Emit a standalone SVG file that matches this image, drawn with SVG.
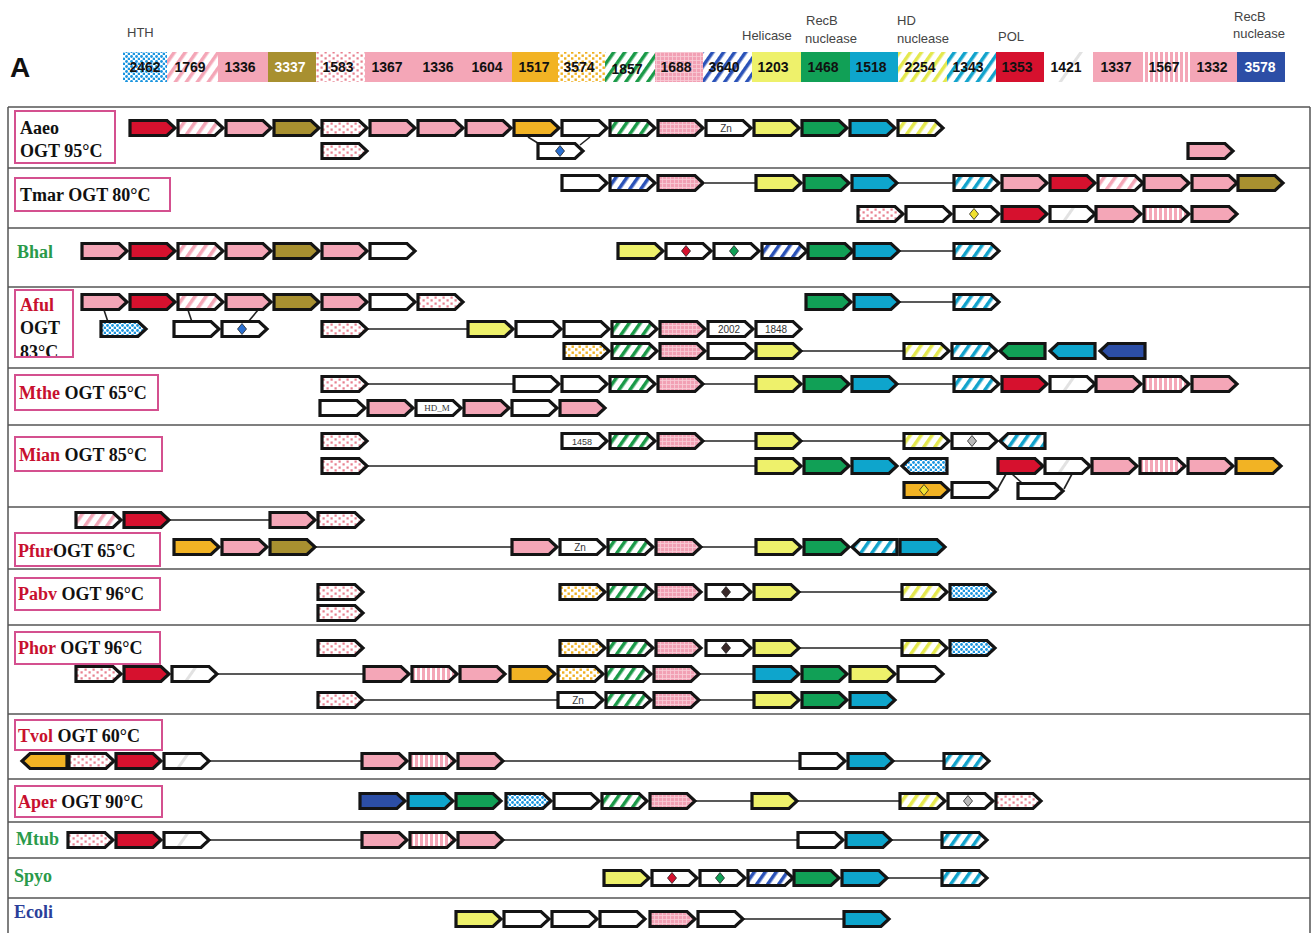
<svg xmlns="http://www.w3.org/2000/svg" xmlns:xlink="http://www.w3.org/1999/xlink" width="1313" height="933" viewBox="0 0 1313 933">
<style>
.pk{fill:#f4a6b7}.rd{fill:#d6112e}.ol{fill:#a89030}.or{fill:#f2b324}.ye{fill:#eef16b}.gr{fill:#11a056}.cy{fill:#0ea5cc}.db{fill:#2c4ea6}.wh{fill:#fff}
.ps{fill:url(#pps)}.pd{fill:url(#ppd)}.od{fill:url(#pod)}.gs{fill:url(#pgs)}.pg{fill:url(#ppg)}.bs{fill:url(#pbs)}.ys{fill:url(#pys)}.cs{fill:url(#pcs)}.wg{fill:url(#pwg)}.pv{fill:url(#ppv)}.cd{fill:url(#pcd)}
.leg{font-family:"Liberation Sans",Arial,sans-serif;font-size:14px;font-weight:bold;fill:#111;text-anchor:middle}
.lab{font-family:"Liberation Sans",Arial,sans-serif;font-size:13px;fill:#444}
.org{font-family:"Liberation Serif","Times New Roman",serif;font-size:18px;font-weight:bold;fill:#111}
.red{fill:#c8102e}.grn{fill:#2a9a4a}.blu{fill:#2b3f9a}
.box{fill:none;stroke:#d4508f;stroke-width:2}
.gt{font-family:"Liberation Sans",Arial,sans-serif;font-size:10px;fill:#333;text-anchor:middle}
.con line{stroke:#222;stroke-width:1.6}
.frame{stroke:#555;stroke-width:1.5;fill:none}
</style>
<defs>
<pattern id="pps" width="9" height="9" patternUnits="userSpaceOnUse" patternTransform="rotate(35)"><rect width="9" height="9" fill="#fff"/><rect width="3.5" height="9" fill="#f4a6b7"/></pattern>
<pattern id="pgs" width="9" height="9" patternUnits="userSpaceOnUse" patternTransform="rotate(35)"><rect width="9" height="9" fill="#fff"/><rect width="3.5" height="9" fill="#1a9a48"/></pattern>
<pattern id="pbs" width="9" height="9" patternUnits="userSpaceOnUse" patternTransform="rotate(35)"><rect width="9" height="9" fill="#fff"/><rect width="3.5" height="9" fill="#2a52b8"/></pattern>
<pattern id="pys" width="9" height="9" patternUnits="userSpaceOnUse" patternTransform="rotate(35)"><rect width="9" height="9" fill="#fff"/><rect width="3.5" height="9" fill="#e4e84e"/></pattern>
<pattern id="pcs" width="9" height="9" patternUnits="userSpaceOnUse" patternTransform="rotate(35)"><rect width="9" height="9" fill="#fff"/><rect width="3.5" height="9" fill="#12a3cc"/></pattern>
<pattern id="pwg" width="36" height="36" patternUnits="userSpaceOnUse" patternTransform="rotate(35)"><rect width="36" height="36" fill="#fff"/><rect x="14" width="3" height="36" fill="#e2e2e2"/></pattern>
<pattern id="ppv" width="5" height="5" patternUnits="userSpaceOnUse"><rect width="5" height="5" fill="#fff"/><rect width="3" height="5" fill="#f4a6b7"/></pattern>
<pattern id="ppd" width="8" height="6" patternUnits="userSpaceOnUse"><rect width="8" height="6" fill="#fff"/><rect x="0.5" y="0.5" width="2.2" height="2.2" fill="#e8808f"/><rect x="4.5" y="3.3" width="2.2" height="2.2" fill="#e8808f"/></pattern>
<pattern id="pod" width="7" height="6" patternUnits="userSpaceOnUse"><rect width="7" height="6" fill="#fff"/><rect x="0.5" y="0.5" width="2.4" height="2.4" fill="#f0b020"/><rect x="4" y="3.3" width="2.4" height="2.4" fill="#f0b020"/></pattern>
<pattern id="pcd" width="5" height="5" patternUnits="userSpaceOnUse"><rect width="5" height="5" fill="#fff"/><circle cx="1.5" cy="1.5" r="1.4" fill="#1a95e0"/><circle cx="4" cy="4" r="1.4" fill="#1a95e0"/></pattern>
<pattern id="ppg" width="4" height="4" patternUnits="userSpaceOnUse"><rect width="4" height="4" fill="#f2a0b4"/><path d="M0,0.5H4M0.5,0V4" stroke="#f9cdd7" stroke-width="0.8"/></pattern>
<path id="f" d="M0,-7.5H37L45,0L37,7.5H0Z" stroke="#141414" stroke-width="3.2"/>
<path id="r" d="M45,-7.5H8L0,0L8,7.5H45Z" stroke="#141414" stroke-width="3.2"/>
<path id="dm" d="M0,-5.5L4.5,0L0,5.5L-4.5,0Z" stroke="#222" stroke-width="0.8"/>
<clipPath id="afc"><rect x="15" y="290" width="58" height="66"/></clipPath>
</defs>
<rect width="1313" height="933" fill="#fff"/>

<g id="legend">
<text x="10" y="77" style="font-family:'Liberation Sans',Arial,sans-serif;font-size:28px;font-weight:bold" fill="#111">A</text>
<text class="lab" x="127" y="37">HTH</text>
<text class="lab" x="742" y="40">Helicase</text>
<text class="lab" x="806" y="25">RecB</text><text class="lab" x="805" y="43">nuclease</text>
<text class="lab" x="897" y="25">HD</text><text class="lab" x="897" y="43">nuclease</text>
<text class="lab" x="998" y="41">POL</text>
<text class="lab" x="1234" y="21">RecB</text><text class="lab" x="1233" y="38">nuclease</text>
<rect x="123" y="52" width="44" height="30" class="cd"/>
<rect x="167" y="52" width="51" height="30" class="ps"/>
<rect x="218" y="52" width="50" height="30" class="pk"/>
<rect x="268" y="52" width="48" height="30" class="ol"/>
<rect x="316" y="52" width="49" height="30" class="pd"/>
<rect x="365" y="52" width="147" height="30" class="pk"/>
<rect x="512" y="52" width="46" height="30" class="or"/>
<rect x="558" y="52" width="47" height="30" class="od"/>
<rect x="605" y="52" width="50" height="30" class="gs"/>
<rect x="655" y="52" width="48" height="30" class="pg"/>
<rect x="703" y="52" width="49" height="30" class="bs"/>
<rect x="752" y="52" width="49" height="30" class="ye"/>
<rect x="801" y="52" width="49" height="30" class="gr"/>
<rect x="850" y="52" width="48" height="30" class="cy"/>
<rect x="898" y="52" width="49" height="30" class="ys"/>
<rect x="947" y="52" width="49" height="30" class="cs"/>
<rect x="996" y="52" width="48" height="30" class="rd"/>
<rect x="1044" y="52" width="49" height="30" class="wg"/>
<rect x="1093" y="52" width="50" height="30" class="pk"/>
<rect x="1143" y="52" width="47" height="30" class="pv"/>
<rect x="1190" y="52" width="47" height="30" class="pk"/>
<rect x="1237" y="52" width="48" height="30" class="db"/>
<text class="leg" x="145" y="72">2462</text>
<text class="leg" x="190" y="72">1769</text>
<text class="leg" x="240" y="72">1336</text>
<text class="leg" x="290" y="72" style="fill:#fff">3337</text>
<text class="leg" x="338" y="72">1583</text>
<text class="leg" x="387" y="72">1367</text>
<text class="leg" x="438" y="72">1336</text>
<text class="leg" x="487" y="72">1604</text>
<text class="leg" x="534" y="72">1517</text>
<text class="leg" x="579" y="72">3574</text>
<text class="leg" x="627" y="74">1857</text>
<text class="leg" x="676" y="72">1688</text>
<text class="leg" x="724" y="72">3640</text>
<text class="leg" x="773" y="72">1203</text>
<text class="leg" x="823" y="72">1468</text>
<text class="leg" x="871" y="72">1518</text>
<text class="leg" x="920" y="72">2254</text>
<text class="leg" x="968" y="72">1343</text>
<text class="leg" x="1017" y="72">1353</text>
<text class="leg" x="1066" y="72">1421</text>
<text class="leg" x="1116" y="72">1337</text>
<text class="leg" x="1164" y="72">1567</text>
<text class="leg" x="1212" y="72">1332</text>
<text class="leg" x="1260" y="72" style="fill:#fff">3578</text>
</g>

<g id="frame" class="frame">
<line x1="8" y1="107" x2="1310" y2="107"/>
<line x1="8" y1="107" x2="8" y2="933"/>
<line x1="1310" y1="107" x2="1310" y2="933"/>
<line x1="8" y1="168" x2="1310" y2="168"/>
<line x1="8" y1="228" x2="1310" y2="228"/>
<line x1="8" y1="287" x2="1310" y2="287"/>
<line x1="8" y1="368" x2="1310" y2="368"/>
<line x1="8" y1="425" x2="1310" y2="425"/>
<line x1="8" y1="507" x2="1310" y2="507"/>
<line x1="8" y1="569" x2="1310" y2="569"/>
<line x1="8" y1="625" x2="1310" y2="625"/>
<line x1="8" y1="714" x2="1310" y2="714"/>
<line x1="8" y1="779" x2="1310" y2="779"/>
<line x1="8" y1="822" x2="1310" y2="822"/>
<line x1="8" y1="858" x2="1310" y2="858"/>
<line x1="8" y1="898" x2="1310" y2="898"/>
</g>

<g id="connectors" class="con">
<line x1="528" y1="137" x2="541" y2="145"/><line x1="590" y1="137" x2="580" y2="145"/>
<line x1="705" y1="183" x2="756" y2="183"/><line x1="898" y1="183" x2="954" y2="183"/>
<line x1="898" y1="251" x2="954" y2="251"/>
<line x1="898" y1="302" x2="954" y2="302"/>
<line x1="104" y1="310" x2="108" y2="322"/><line x1="188" y1="310" x2="192" y2="322"/><line x1="258" y1="310" x2="248" y2="322"/>
<line x1="366" y1="329" x2="468" y2="329"/>
<line x1="800" y1="351" x2="904" y2="351"/>
<line x1="366" y1="384" x2="514" y2="384"/><line x1="702" y1="384" x2="756" y2="384"/><line x1="896" y1="384" x2="954" y2="384"/>
<line x1="702" y1="441" x2="756" y2="441"/><line x1="800" y1="441" x2="904" y2="441"/>
<line x1="366" y1="466" x2="756" y2="466"/>
<line x1="997" y1="490" x2="1006" y2="474"/><line x1="1012" y1="474" x2="1022" y2="483"/><line x1="1072" y1="474" x2="1064" y2="489"/>
<line x1="168" y1="520" x2="270" y2="520"/>
<line x1="314" y1="547" x2="512" y2="547"/><line x1="700" y1="547" x2="756" y2="547"/>
<line x1="798" y1="592" x2="902" y2="592"/>
<line x1="798" y1="648" x2="902" y2="648"/>
<line x1="216" y1="674" x2="364" y2="674"/><line x1="698" y1="674" x2="754" y2="674"/>
<line x1="362" y1="700" x2="558" y2="700"/><line x1="698" y1="700" x2="754" y2="700"/>
<line x1="208" y1="761" x2="362" y2="761"/><line x1="502" y1="761" x2="800" y2="761"/><line x1="892" y1="761" x2="944" y2="761"/>
<line x1="694" y1="801" x2="752" y2="801"/><line x1="796" y1="801" x2="900" y2="801"/>
<line x1="208" y1="840" x2="362" y2="840"/><line x1="502" y1="840" x2="798" y2="840"/><line x1="890" y1="840" x2="942" y2="840"/>
<line x1="886" y1="878" x2="942" y2="878"/>
<line x1="742" y1="919" x2="844" y2="919"/>
</g>

<g id="Aaeo">
<rect class="box" x="15" y="111" width="100" height="52"/>
<text class="org" x="20" y="134">Aaeo</text><text class="org" x="20" y="157">OGT 95°C</text>
<use href="#f" x="130" y="128" class="rd"/><use href="#f" x="178" y="128" class="ps"/><use href="#f" x="226" y="128" class="pk"/><use href="#f" x="274" y="128" class="ol"/><use href="#f" x="322" y="128" class="pd"/><use href="#f" x="370" y="128" class="pk"/><use href="#f" x="418" y="128" class="pk"/><use href="#f" x="466" y="128" class="pk"/><use href="#f" x="514" y="128" class="or"/><use href="#f" x="562" y="128" class="wh"/><use href="#f" x="610" y="128" class="gs"/><use href="#f" x="658" y="128" class="pg"/><use href="#f" x="706" y="128" class="wh"/><use href="#f" x="754" y="128" class="ye"/><use href="#f" x="802" y="128" class="gr"/><use href="#f" x="850" y="128" class="cy"/><use href="#f" x="898" y="128" class="ys"/>
<text class="gt" x="726" y="132">Zn</text>
<use href="#f" x="322" y="151" class="pd"/><use href="#f" x="538" y="151" class="wh"/><use href="#dm" x="560" y="151" fill="#2a6fd0"/><use href="#f" x="1188" y="151" class="pk"/>
</g>

<g id="Tmar">
<rect class="box" x="15" y="178" width="155" height="33"/>
<text class="org" x="20" y="201">Tmar OGT 80°C</text>
<use href="#f" x="562" y="183" class="wh"/><use href="#f" x="610" y="183" class="bs"/><use href="#f" x="658" y="183" class="pg"/><use href="#f" x="756" y="183" class="ye"/><use href="#f" x="804" y="183" class="gr"/><use href="#f" x="852" y="183" class="cy"/><use href="#f" x="954" y="183" class="cs"/><use href="#f" x="1002" y="183" class="pk"/><use href="#f" x="1050" y="183" class="rd"/><use href="#f" x="1098" y="183" class="ps"/><use href="#f" x="1144" y="183" class="pk"/><use href="#f" x="1192" y="183" class="pk"/><use href="#f" x="1238" y="183" class="ol"/>
<use href="#f" x="858" y="214" class="pd"/><use href="#f" x="906" y="214" class="wh"/><use href="#f" x="954" y="214" class="wh"/><use href="#dm" x="974" y="214" fill="#f0e030"/><use href="#f" x="1002" y="214" class="rd"/><use href="#f" x="1050" y="214" class="wg"/><use href="#f" x="1096" y="214" class="pk"/><use href="#f" x="1144" y="214" class="pv"/><use href="#f" x="1192" y="214" class="pk"/>
</g>

<g id="Bhal">
<text class="org grn" x="17" y="258">Bhal</text>
<use href="#f" x="82" y="251" class="pk"/><use href="#f" x="130" y="251" class="rd"/><use href="#f" x="178" y="251" class="ps"/><use href="#f" x="226" y="251" class="pk"/><use href="#f" x="274" y="251" class="ol"/><use href="#f" x="322" y="251" class="pk"/><use href="#f" x="370" y="251" class="wh"/>
<use href="#f" x="618" y="251" class="ye"/><use href="#f" x="666" y="251" class="wh"/><use href="#dm" x="686" y="251" fill="#d6112e"/><use href="#f" x="714" y="251" class="wh"/><use href="#dm" x="734" y="251" fill="#11a056"/><use href="#f" x="762" y="251" class="bs"/><use href="#f" x="808" y="251" class="gr"/><use href="#f" x="854" y="251" class="cy"/><use href="#f" x="954" y="251" class="cs"/>
</g>

<g id="Aful">
<rect class="box" x="15" y="290" width="58" height="67"/>
<text class="org red" x="20" y="311">Aful</text><text class="org" x="20" y="334">OGT</text><text class="org" x="20" y="358" clip-path="url(#afc)">83°C</text>
<use href="#f" x="82" y="302" class="pk"/><use href="#f" x="130" y="302" class="rd"/><use href="#f" x="178" y="302" class="ps"/><use href="#f" x="226" y="302" class="pk"/><use href="#f" x="274" y="302" class="ol"/><use href="#f" x="322" y="302" class="pk"/><use href="#f" x="370" y="302" class="wh"/><use href="#f" x="418" y="302" class="pd"/>
<use href="#f" x="806" y="302" class="gr"/><use href="#f" x="854" y="302" class="cy"/><use href="#f" x="954" y="302" class="cs"/>
<use href="#f" x="101" y="329" class="cd"/><use href="#f" x="174" y="329" class="wh"/><use href="#f" x="222" y="329" class="wh"/><use href="#dm" x="242" y="329" fill="#2a6fd0"/><use href="#f" x="322" y="329" class="pd"/>
<use href="#f" x="468" y="329" class="ye"/><use href="#f" x="516" y="329" class="wh"/><use href="#f" x="564" y="329" class="wh"/><use href="#f" x="612" y="329" class="gs"/><use href="#f" x="660" y="329" class="pg"/><use href="#f" x="708" y="329" class="wh"/><use href="#f" x="756" y="329" class="wh"/>
<text class="gt" x="729" y="333">2002</text><text class="gt" x="776" y="333">1848</text>
<use href="#f" x="564" y="351" class="od"/><use href="#f" x="612" y="351" class="gs"/><use href="#f" x="660" y="351" class="pg"/><use href="#f" x="708" y="351" class="wh"/><use href="#f" x="756" y="351" class="ye"/>
<use href="#f" x="904" y="351" class="ys"/><use href="#f" x="952" y="351" class="cs"/><use href="#r" x="1000" y="351" class="gr"/><use href="#r" x="1050" y="351" class="cy"/><use href="#r" x="1100" y="351" class="db"/>
</g>

<g id="Mthe">
<rect class="box" x="15" y="375" width="143" height="35"/>
<text class="org" x="19" y="399"><tspan class="red">Mthe</tspan> OGT 65°C</text>
<use href="#f" x="322" y="384" class="pd"/><use href="#f" x="514" y="384" class="wh"/><use href="#f" x="562" y="384" class="wh"/><use href="#f" x="610" y="384" class="gs"/><use href="#f" x="658" y="384" class="pg"/>
<use href="#f" x="756" y="384" class="ye"/><use href="#f" x="804" y="384" class="gr"/><use href="#f" x="852" y="384" class="cy"/>
<use href="#f" x="954" y="384" class="cs"/><use href="#f" x="1002" y="384" class="rd"/><use href="#f" x="1050" y="384" class="wg"/><use href="#f" x="1096" y="384" class="pk"/><use href="#f" x="1144" y="384" class="pv"/><use href="#f" x="1192" y="384" class="pk"/>
<use href="#f" x="320" y="408" class="wh"/><use href="#f" x="368" y="408" class="pk"/><use href="#f" x="416" y="408" class="wh"/><use href="#f" x="464" y="408" class="pk"/><use href="#f" x="512" y="408" class="wh"/><use href="#f" x="560" y="408" class="pk"/>
<text class="gt" x="437" y="411" style="font-family:'Liberation Serif',serif;font-size:9px">HD_M</text>
</g>

<g id="Mian">
<rect class="box" x="15" y="437" width="147" height="34"/>
<text class="org" x="19" y="461"><tspan class="red">Mian</tspan> OGT 85°C</text>
<use href="#f" x="322" y="441" class="pd"/><use href="#f" x="562" y="441" class="wh"/><use href="#f" x="610" y="441" class="gs"/><use href="#f" x="658" y="441" class="pg"/><use href="#f" x="756" y="441" class="ye"/>
<text class="gt" x="582" y="445" style="font-size:9px">1458</text>
<use href="#f" x="904" y="441" class="ys"/><use href="#f" x="952" y="441" class="wh"/><use href="#dm" x="972" y="441" fill="#bbb"/><use href="#r" x="1000" y="441" class="cs"/>
<use href="#f" x="322" y="466" class="pd"/><use href="#f" x="756" y="466" class="ye"/><use href="#f" x="804" y="466" class="gr"/><use href="#f" x="852" y="466" class="cy"/><use href="#r" x="902" y="466" class="cd"/>
<use href="#f" x="998" y="466" class="rd"/><use href="#f" x="1045" y="466" class="wg"/><use href="#f" x="1092" y="466" class="pk"/><use href="#f" x="1140" y="466" class="pv"/><use href="#f" x="1188" y="466" class="pk"/><use href="#f" x="1236" y="466" class="or"/>
<use href="#f" x="904" y="490" class="or"/><use href="#dm" x="924" y="490" fill="#f0e030"/><use href="#f" x="952" y="490" class="wh"/><use href="#f" x="1018" y="491" class="wh"/>
</g>

<g id="Pfur">
<rect class="box" x="15" y="533" width="145" height="33"/>
<text class="org" x="18" y="557"><tspan class="red">Pfur</tspan>OGT 65°C</text>
<use href="#f" x="76" y="520" class="ps"/><use href="#f" x="124" y="520" class="rd"/><use href="#f" x="270" y="520" class="pk"/><use href="#f" x="318" y="520" class="pd"/>
<use href="#f" x="174" y="547" class="or"/><use href="#f" x="222" y="547" class="pk"/><use href="#f" x="270" y="547" class="ol"/>
<use href="#f" x="512" y="547" class="pk"/><use href="#f" x="560" y="547" class="wh"/><use href="#f" x="608" y="547" class="gs"/><use href="#f" x="656" y="547" class="pg"/>
<text class="gt" x="580" y="551">Zn</text>
<use href="#f" x="756" y="547" class="ye"/><use href="#f" x="804" y="547" class="gr"/><use href="#r" x="852" y="547" class="cs"/><use href="#f" x="900" y="547" class="cy"/>
</g>

<g id="Pabv">
<rect class="box" x="15" y="578" width="145" height="32"/>
<text class="org" x="18" y="600"><tspan class="red">Pabv</tspan> OGT 96°C</text>
<use href="#f" x="318" y="592" class="pd"/><use href="#f" x="560" y="592" class="od"/><use href="#f" x="608" y="592" class="gs"/><use href="#f" x="656" y="592" class="pg"/><use href="#f" x="706" y="592" class="wh"/><use href="#dm" x="726" y="592" fill="#3a2a2a"/><use href="#f" x="754" y="592" class="ye"/>
<use href="#f" x="902" y="592" class="ys"/><use href="#f" x="950" y="592" class="cd"/>
<use href="#f" x="318" y="613" class="pd"/>
</g>

<g id="Phor">
<rect class="box" x="15" y="632" width="145" height="32"/>
<text class="org" x="18" y="654"><tspan class="red">Phor</tspan> OGT 96°C</text>
<use href="#f" x="318" y="648" class="pd"/><use href="#f" x="560" y="648" class="od"/><use href="#f" x="608" y="648" class="gs"/><use href="#f" x="656" y="648" class="pg"/><use href="#f" x="706" y="648" class="wh"/><use href="#dm" x="726" y="648" fill="#3a2a2a"/><use href="#f" x="754" y="648" class="ye"/>
<use href="#f" x="902" y="648" class="ys"/><use href="#f" x="950" y="648" class="cd"/>
<use href="#f" x="76" y="674" class="pd"/><use href="#f" x="124" y="674" class="rd"/><use href="#f" x="172" y="674" class="wg"/>
<use href="#f" x="364" y="674" class="pk"/><use href="#f" x="412" y="674" class="pv"/><use href="#f" x="460" y="674" class="pk"/><use href="#f" x="510" y="674" class="or"/><use href="#f" x="558" y="674" class="od"/><use href="#f" x="606" y="674" class="gs"/><use href="#f" x="654" y="674" class="pg"/>
<use href="#f" x="754" y="674" class="cy"/><use href="#f" x="802" y="674" class="gr"/><use href="#f" x="850" y="674" class="ye"/><use href="#f" x="898" y="674" class="wh"/>
<use href="#f" x="318" y="700" class="pd"/><use href="#f" x="558" y="700" class="wh"/><use href="#f" x="606" y="700" class="gs"/><use href="#f" x="654" y="700" class="pg"/>
<text class="gt" x="578" y="704">Zn</text>
<use href="#f" x="754" y="700" class="ye"/><use href="#f" x="802" y="700" class="gr"/><use href="#f" x="850" y="700" class="cy"/>
</g>

<g id="Tvol">
<rect class="box" x="15" y="720" width="147" height="30"/>
<text class="org" x="18" y="742"><tspan class="red">Tvol</tspan> OGT 60°C</text>
<use href="#r" x="22" y="761" class="or"/><use href="#f" x="69" y="761" class="pd"/><use href="#f" x="116" y="761" class="rd"/><use href="#f" x="164" y="761" class="wg"/>
<use href="#f" x="362" y="761" class="pk"/><use href="#f" x="410" y="761" class="pv"/><use href="#f" x="458" y="761" class="pk"/>
<use href="#f" x="800" y="761" class="wh"/><use href="#f" x="848" y="761" class="cy"/><use href="#f" x="944" y="761" class="cs"/>
</g>

<g id="Aper">
<rect class="box" x="15" y="786" width="147" height="31"/>
<text class="org" x="18" y="808"><tspan class="red">Aper</tspan> OGT 90°C</text>
<use href="#f" x="360" y="801" class="db"/><use href="#f" x="408" y="801" class="cy"/><use href="#f" x="456" y="801" class="gr"/><use href="#f" x="506" y="801" class="cd"/><use href="#f" x="554" y="801" class="wh"/><use href="#f" x="602" y="801" class="gs"/><use href="#f" x="650" y="801" class="pg"/>
<use href="#f" x="752" y="801" class="ye"/><use href="#f" x="900" y="801" class="ys"/><use href="#f" x="948" y="801" class="wh"/><use href="#dm" x="968" y="801" fill="#bbb"/><use href="#f" x="996" y="801" class="pd"/>
</g>

<g id="Mtub">
<text class="org grn" x="16" y="845">Mtub</text>
<use href="#f" x="68" y="840" class="pd"/><use href="#f" x="116" y="840" class="rd"/><use href="#f" x="164" y="840" class="wg"/>
<use href="#f" x="362" y="840" class="pk"/><use href="#f" x="410" y="840" class="pv"/><use href="#f" x="458" y="840" class="pk"/>
<use href="#f" x="798" y="840" class="wh"/><use href="#f" x="846" y="840" class="cy"/><use href="#f" x="942" y="840" class="cs"/>
</g>

<g id="Spyo">
<text class="org grn" x="14" y="882">Spyo</text>
<use href="#f" x="604" y="878" class="ye"/><use href="#f" x="652" y="878" class="wh"/><use href="#dm" x="672" y="878" fill="#d6112e"/><use href="#f" x="700" y="878" class="wh"/><use href="#dm" x="720" y="878" fill="#11a056"/><use href="#f" x="748" y="878" class="bs"/><use href="#f" x="794" y="878" class="gr"/><use href="#f" x="842" y="878" class="cy"/><use href="#f" x="942" y="878" class="cs"/>
</g>

<g id="Ecoli">
<text class="org blu" x="14" y="918">Ecoli</text>
<use href="#f" x="456" y="919" class="ye"/><use href="#f" x="504" y="919" class="wh"/><use href="#f" x="552" y="919" class="wh"/><use href="#f" x="600" y="919" class="wh"/><use href="#f" x="650" y="919" class="pg"/><use href="#f" x="698" y="919" class="wh"/><use href="#f" x="844" y="919" class="cy"/>
</g>
</svg>
